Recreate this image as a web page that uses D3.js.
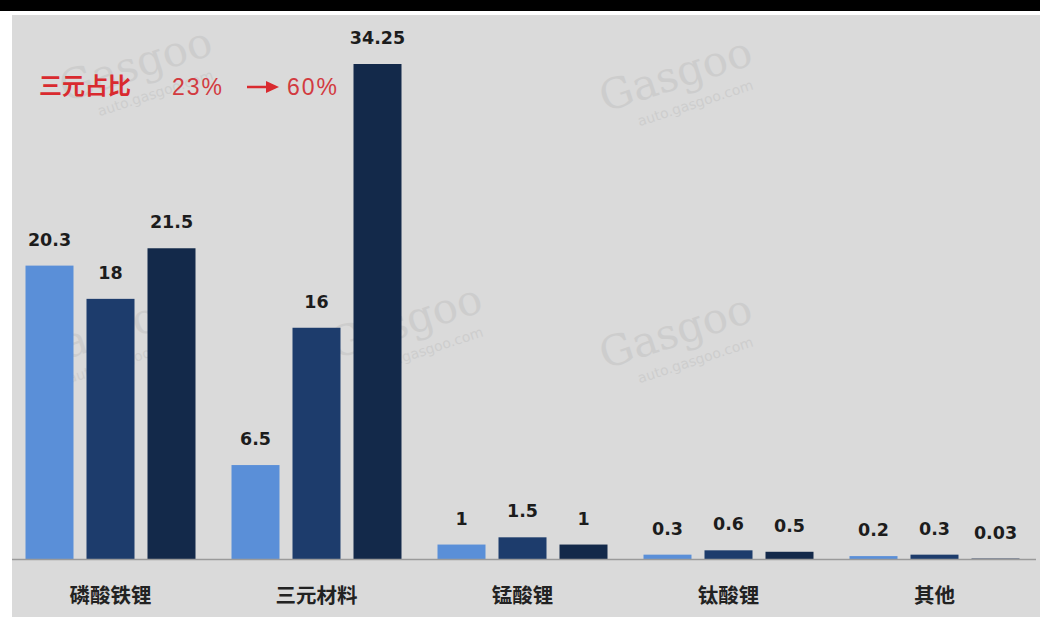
<!DOCTYPE html>
<html>
<head>
<meta charset="utf-8">
<script src="https://cdn.jsdelivr.net/npm/d3@7"></script>
<style>
html,body{margin:0;padding:0;background:#fff;}
svg{display:block;}
</style>
</head>
<body>
<svg id="chart" width="1040" height="618"></svg>
<script>
const categories = ["磷酸铁锂", "三元材料", "锰酸锂", "钛酸锂", "其他"];
const seriesKeys = ["s1", "s2", "s3"];
const series1 = [20.3, 6.5, 1, 0.3, 0.2];
const series2 = [18, 16, 1.5, 0.6, 0.3];
const series3 = [21.5, 34.25, 1, 0.5, 0.03];
const seriesColors = ["#5a8fd8", "#1d3c6c", "#13294a"];
const annotationTitle = "三元占比";
const annotationFrom = "23%";
const annotationTo = "60%";

const seriesValues = [series1, series2, series3];
const data = categories.map((c, i) => ({
  cat: c,
  vals: seriesKeys.map((k, j) => ({ key: k, value: seriesValues[j][i], color: seriesColors[j] }))
}));

const svg = d3.select("#chart");
// top black band and gray panel
svg.append("rect").attr("x", 0).attr("y", 0).attr("width", 1040).attr("height", 11).attr("fill", "#000");
svg.append("rect").attr("x", 12).attr("y", 15).attr("width", 1028).attr("height", 602).attr("fill", "#dadada");

const baseY = 559;
const x0 = d3.scaleBand().domain(categories).range([7.5, 1037.5])
  .paddingInner(36 / 206).paddingOuter(18 / 206);
const x1 = d3.scaleBand().domain(seriesKeys).range([0, x0.bandwidth()]).paddingInner(13 / 61);
const y = d3.scaleLinear().domain([0, 34.25]).range([baseY, 64]);

// watermarks
const wm = svg.append("g").attr("pointer-events", "none");
const wmPos = [[140, 78], [680, 88], [410, 335], [680, 345], [110, 345]];
wmPos.forEach(([cx, cy]) => {
  const g = wm.append("g").attr("transform", `translate(${cx},${cy}) rotate(-18)`).attr("opacity", 0.15);
  g.append("text").attr("x", 0).attr("y", 0).attr("text-anchor", "middle")
    .attr("font-family", "DejaVu Serif").attr("font-size", 42).attr("fill", "#888").text("Gasgoo");
  g.append("text").attr("x", 10).attr("y", 24).attr("text-anchor", "middle")
    .attr("font-family", "DejaVu Sans").attr("font-size", 14).attr("fill", "#888").text("auto.gasgoo.com");
});

// bars
const groups = svg.append("g").selectAll("g").data(data).join("g")
  .attr("transform", d => `translate(${x0(d.cat)},0)`);
groups.selectAll("rect").data(d => d.vals).join("rect")
  .attr("x", d => x1(d.key))
  .attr("y", d => y(d.value))
  .attr("width", x1.bandwidth())
  .attr("height", d => baseY - y(d.value))
  .attr("fill", d => d.color);
groups.selectAll("text").data(d => d.vals).join("text")
  .attr("x", d => x1(d.key) + x1.bandwidth() / 2)
  .attr("y", d => y(d.value) - 20)
  .attr("text-anchor", "middle")
  .attr("font-family", "DejaVu Sans")
  .attr("font-weight", "bold")
  .attr("font-size", 17.5)
  .attr("fill", "#1c1c1c")
  .text(d => d.value);

// baseline
svg.append("line").attr("x1", 12).attr("x2", 1036).attr("y1", baseY + 0.5).attr("y2", baseY + 0.5)
  .attr("stroke", "#9a9a9a").attr("stroke-width", 1.5);

// category axis
const axis = svg.append("g").attr("transform", `translate(0,${baseY})`)
  .call(d3.axisBottom(x0).tickSize(0).tickPadding(0));
axis.select(".domain").remove();
axis.selectAll("text")
  .attr("y", 44)
  .attr("dy", 0)
  .attr("font-family", "Noto Sans CJK SC")
  .attr("font-weight", "bold")
  .attr("font-size", 20.5)
  .attr("fill", "#222");

// annotation
const red = "#d92a2f";
svg.append("text").attr("x", 39).attr("y", 94)
  .attr("font-family", "Noto Sans CJK SC").attr("font-weight", "bold").attr("font-size", 23)
  .attr("fill", red).text(annotationTitle);
svg.append("text").attr("x", 172).attr("y", 95)
  .attr("font-family", "Liberation Sans").attr("font-size", 23).attr("textLength", 50)
  .attr("fill", "#d23a40").text(annotationFrom);
svg.append("line").attr("x1", 247).attr("x2", 268).attr("y1", 87).attr("y2", 87)
  .attr("stroke", red).attr("stroke-width", 2.5);
svg.append("path").attr("d", "M266,81 L279,87 L266,93 Z").attr("fill", red);
svg.append("text").attr("x", 287).attr("y", 95)
  .attr("font-family", "Liberation Sans").attr("font-size", 23).attr("textLength", 50)
  .attr("fill", "#d23a40").text(annotationTo);
</script>
</body>
</html>
